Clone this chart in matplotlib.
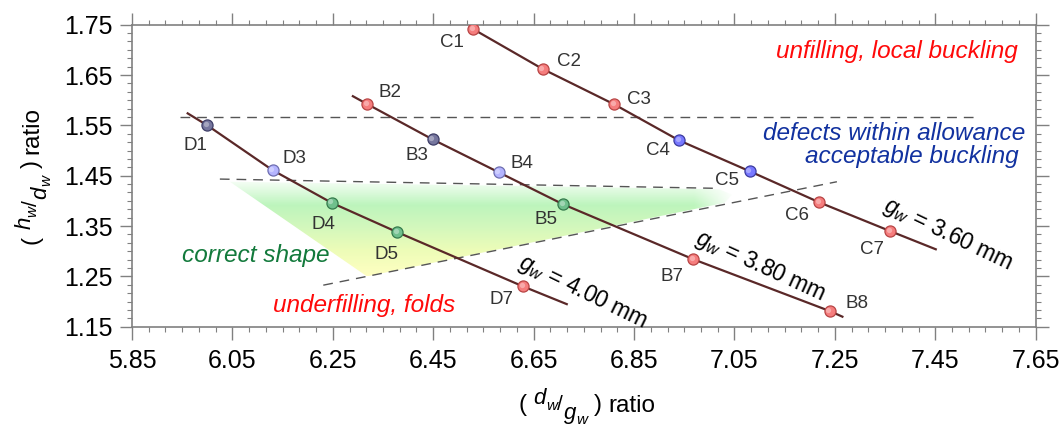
import numpy as np
import matplotlib
matplotlib.use("Agg")
import matplotlib.pyplot as plt
from matplotlib.ticker import AutoMinorLocator
from matplotlib.patches import Polygon
from matplotlib.transforms import ScaledTranslation, IdentityTransform

plt.rcParams['font.family'] = ['Liberation Sans', 'DejaVu Sans']
plt.rcParams['mathtext.fontset'] = 'custom'
plt.rcParams['mathtext.rm'] = 'Liberation Sans'
plt.rcParams['mathtext.it'] = 'Liberation Sans:italic'

# ---------------- data ----------------
c_labels = ['C1', 'C2', 'C3', 'C4', 'C5', 'C6', 'C7']
c_x = [6.530, 6.668, 6.810, 6.940, 7.080, 7.219, 7.360]
c_y = [1.741, 1.662, 1.592, 1.520, 1.459, 1.397, 1.340]
c_kind = ['red', 'red', 'red', 'blue', 'blue', 'red', 'red']
c_line_end = (7.453, 1.303)

b_labels = ['B2', 'B3', 'B4', 'B5', 'B7', 'B8']
b_x = [6.319, 6.449, 6.580, 6.709, 6.968, 7.240]
b_y = [1.592, 1.522, 1.457, 1.393, 1.284, 1.181]
b_kind = ['red', 'slate', 'lav', 'green', 'red', 'red']
b_line_start = (6.288, 1.609)
b_line_end = (7.267, 1.169)

d_labels = ['D1', 'D3', 'D4', 'D5', 'D7']
d_x = [6.000, 6.130, 6.248, 6.378, 6.629]
d_y = [1.550, 1.461, 1.396, 1.338, 1.230]
d_kind = ['slate', 'lav', 'green', 'green', 'red']
d_line_start = (5.959, 1.575)
d_line_end = (6.718, 1.194)

# label offsets (pixels, +y up)
c_off = [(-21, -13), (26, 7), (25, 5), (-21, -10), (-23, -9), (-22, -13), (-18, -18)]
b_off = [(23, 12), (-16, -16), (23, 9), (-17, -15), (-21, -17), (27, 8)]
d_off = [(-12, -20), (22, 12), (-8, -22), (-11, -22), (-22, -13)]

# dashed boundary lines
h_dash_x = [5.946, 7.529]
h_dash_y = [1.566, 1.566]
up_dash_x = [6.025, 7.010]
up_dash_y = [1.4433, 1.425]
lo_dash_x = [6.231, 7.254]
lo_dash_y = [1.2325, 1.438]

# shaded "correct shape" region
region_x = [6.045, 6.60, 7.020, 7.045, 7.030, 6.318]
region_y = [1.438, 1.430, 1.423, 1.412, 1.396, 1.250]

xticks = [5.85, 6.05, 6.25, 6.45, 6.65, 6.85, 7.05, 7.25, 7.45, 7.65]
yticks = [1.15, 1.25, 1.35, 1.45, 1.55, 1.65, 1.75]

# ---------------- style ----------------
fills = {'red': '#f57d7d', 'blue': '#7878ff', 'slate': '#76769e',
         'lav': '#b4b4ff', 'green': '#6fbf8c'}
edges = {'red': '#b84545', 'blue': '#3c3ca0', 'slate': '#3e3e68',
         'lav': '#6e6eb0', 'green': '#357a4c'}
line_col = '#5a2828'
spine_col = '#808080'

W, H = 1062, 426
fig = plt.figure(figsize=(W / 100, H / 100), dpi=100)
ax = fig.add_axes([132 / W, 1 - 326.7 / H, (1035.7 - 132) / W, (326.7 - 24.7) / H])
ax.set_xlim(5.85, 7.65)
ax.set_ylim(1.15, 1.75)

# gradient region
poly = Polygon(list(zip(region_x, region_y)), closed=True, facecolor='none', edgecolor='none')
ax.add_patch(poly)
ny, nx = 200, 400
yy = np.linspace(1.25, 1.445, ny)
stops_y = [1.25, 1.30, 1.35, 1.39, 1.415, 1.445]
stops_c = np.array([[1.0, 1.0, 0.76], [0.93, 0.99, 0.72], [0.82, 0.97, 0.74],
                    [0.74, 0.96, 0.74], [0.86, 0.98, 0.86], [1.0, 1.0, 1.0]])
cols = np.stack([np.interp(yy, stops_y, stops_c[:, k]) for k in range(3)], axis=-1)
img = np.repeat(cols[:, None, :], nx, axis=1)
xx = np.linspace(6.04, 7.05, nx)
fade = np.clip((7.05 - xx) / 0.08, 0, 1)
img = 1 - (1 - img) * fade[None, :, None]
im = ax.imshow(img, extent=[6.04, 7.05, 1.25, 1.445], origin='lower', aspect='auto',
               zorder=0.5, interpolation='bilinear')
im.set_clip_path(poly)

dash_kw = dict(color='#555555', lw=1.0, dashes=(7, 5), zorder=1)
ax.plot(h_dash_x, h_dash_y, **dash_kw)
ax.plot(up_dash_x, up_dash_y, **dash_kw)
ax.plot(lo_dash_x, lo_dash_y, **dash_kw)

hl = ax.transData + ScaledTranslation(-1.0 / 72, 1.0 / 72, fig.dpi_scale_trans)


def series(xs, ys, kinds, labels, offs, start=None, end=None):
    lx = ([start[0]] if start else []) + list(xs) + ([end[0]] if end else [])
    ly = ([start[1]] if start else []) + list(ys) + ([end[1]] if end else [])
    ax.plot(lx, ly, color=line_col, lw=1.6, zorder=2, solid_capstyle='butt')
    for x, y, k, lab, off in zip(xs, ys, kinds, labels, offs):
        ax.plot([x], [y], 'o', ms=8, mfc=fills[k], mec=edges[k], mew=0.9, zorder=3)
        ax.plot([x], [y], 'o', ms=3.8, mfc='white', mec='none', alpha=0.35, zorder=4,
                transform=hl)
        ax.annotate(lab, (x, y), xytext=off, textcoords='offset pixels',
                    ha='center', va='center', fontsize=13.5, color='#333333', zorder=5)


series(c_x, c_y, c_kind, c_labels, c_off, start=None, end=c_line_end)
series(b_x, b_y, b_kind, b_labels, b_off, start=b_line_start, end=b_line_end)
series(d_x, d_y, d_kind, d_labels, d_off, start=d_line_start, end=d_line_end)

# gap labels
ax.text(7.475, 1.334, r'$g_w$ = 3.60 mm', rotation=-25.5, ha='center', va='center',
        fontsize=16.5, color='black', rotation_mode='anchor')
ax.text(7.101, 1.270, r'$g_w$ = 3.80 mm', rotation=-24.5, ha='center', va='center',
        fontsize=16.5, color='black', rotation_mode='anchor')
ax.text(6.748, 1.219, r'$g_w$ = 4.00 mm', rotation=-26, ha='center', va='center',
        fontsize=16.5, color='black', rotation_mode='anchor')

# region annotations
ax.text(7.615, 1.696, 'unfilling, local buckling', ha='right', va='center',
        fontsize=17.6, style='italic', color='#ff0a0a')
ax.text(7.629, 1.534, 'defects within allowance', ha='right', va='center',
        fontsize=17.6, style='italic', color='#1232a0')
ax.text(7.615, 1.4876, 'acceptable buckling', ha='right', va='center',
        fontsize=17.6, style='italic', color='#1232a0')
ax.text(5.949, 1.292, 'correct shape', ha='left', va='center',
        fontsize=17.6, style='italic', color='#137a3c')
ax.text(6.131, 1.193, 'underfilling, folds', ha='left', va='center',
        fontsize=17.6, style='italic', color='#ff0a0a')

# axes styling
ax.set_xticks(xticks)
ax.set_yticks(yticks)
ax.set_xticklabels([f'{v:.2f}' for v in xticks])
ax.set_yticklabels([f'{v:.2f}' for v in yticks])
ax.xaxis.set_minor_locator(AutoMinorLocator(6))
ax.yaxis.set_minor_locator(AutoMinorLocator(6))
ax.tick_params(which='both', direction='out', color=spine_col, top=True, right=True,
               labeltop=False, labelright=False)
ax.tick_params(which='major', length=9, width=1.0, labelsize=18)
ax.tick_params(axis='x', which='major', pad=7)
ax.tick_params(axis='y', which='major', pad=5)
ax.tick_params(which='minor', length=3.6, width=0.8)
for s in ax.spines.values():
    s.set_color(spine_col)
    s.set_linewidth(1.2)


# axis labels built as a slanted fraction: ( num_w / den_w ) ratio
def fancy_label(num, den, center_px, baseline_px, vertical):
    # (text, fontsize, baseline shift px (+ up), italic, gap before px)
    pieces = [('(', 17.5, 0, False, 0),
              (num, 16, 7, True, 7), ('w', 11, 2, True, 0),
              ('/', 15, 1, False, 0),
              (den, 16, -8, True, 1), ('w', 11, -12, True, 0),
              (')', 17.5, 0, False, 7), ('ratio', 17.5, 0, False, 6)]
    r = fig.canvas.get_renderer()
    arts, widths = [], []
    for s, size, dy, it, gap in pieces:
        t = fig.text(0, 0, s, fontsize=size, style='italic' if it else 'normal',
                     ha='left', va='baseline', transform=IdentityTransform())
        arts.append(t)
        widths.append(t.get_window_extent(renderer=r).width)
    total = sum(widths) + sum(p[4] for p in pieces)
    pos = -total / 2
    for t, w, (s, size, dy, it, gap) in zip(arts, widths, pieces):
        pos += gap
        if vertical:
            t.set_position((baseline_px - dy, center_px + pos))
            t.set_rotation(90)
            t.set_rotation_mode('anchor')
        else:
            t.set_position((center_px + pos, baseline_px + dy))
        pos += w


fancy_label('d', 'g', 587, H - 411.5, vertical=False)
fancy_label('h', 'd', H - 175.7, 38, vertical=True)

fig.savefig('out.png', dpi=100)
